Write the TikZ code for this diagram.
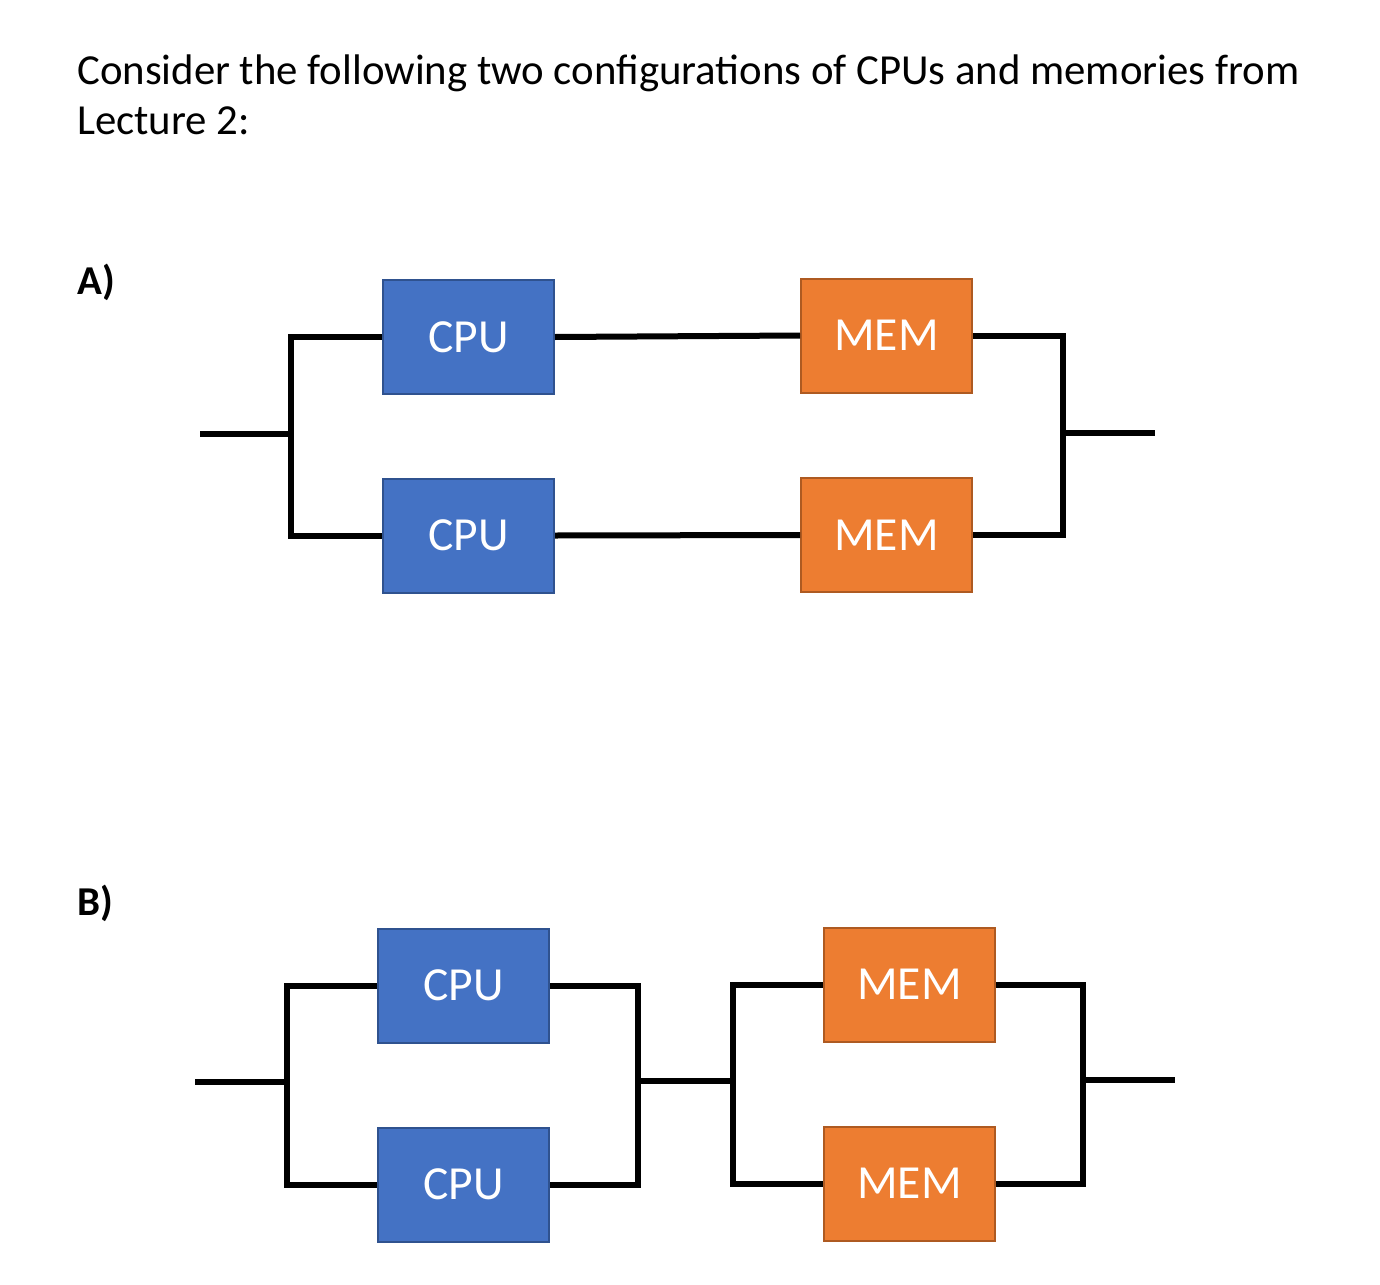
\documentclass[tikz,border=0pt]{standalone}
\usepackage{fontspec}
\setmainfont{Carlito}
\definecolor{cpufill}{HTML}{4472C4}
\definecolor{cpuline}{HTML}{2F528F}
\definecolor{memfill}{HTML}{ED7D31}
\definecolor{memline}{HTML}{AE5A21}
\begin{document}
\begin{tikzpicture}[x=1pt,y=-1pt,
  unit/.style={rectangle, minimum width=171pt, minimum height=114pt, inner sep=0pt,
    line width=2pt, text=white, font=\fontsize{47.5}{56}\selectfont},
  cpubox/.style={unit, fill=cpufill, draw=cpuline},
  membox/.style={unit, fill=memfill, draw=memline},
  wire/.style={line width=6pt, black, line join=miter},
  title/.style={anchor=base west, inner sep=0pt, font=\fontsize{42.8}{50}\selectfont},
  part/.style={anchor=base west, inner sep=0pt, font=\fontsize{41}{50}\selectfont\bfseries}]
\path[use as bounding box, fill=white] (0,0) rectangle (1380,1284);

\node[title] (t1) at (77,85) {Consider the following two configurations of CPUs and memories from};
\node[title] (t2) at (77,135) {Lecture 2:};

% ---------- A ----------
\node[part] (la) at (77,294) {A)};
\node[cpubox] (ca1) at (468.5,337) {CPU};
\node[cpubox] (ca2) at (468.5,535.5) {CPU};
\node[membox] (ma1) at (886.5,335.5) {MEM};
\node[membox] (ma2) at (886.5,535) {MEM};
\coordinate (ainL) at (200,434);
\coordinate (ajL) at (291,434);
\coordinate (ajR) at (1063,433);
\coordinate (aoutR) at (1155,433);
\draw[wire] (ainL) -- (ajL);
\draw[wire] (ca1.west) -| (ajL) |- (ca2.west);
\draw[wire] (ca1.east) -- (ma1.west);
\draw[wire] (ca2.east) -- (ma2.west);
\draw[wire] (ma1.east) -| (ajR) |- (ma2.east);
\draw[wire] (ajR) -- (aoutR);

% ---------- B ----------
\node[part] (lb) at (77,915) {B)};
\node[cpubox] (cb1) at (463.5,985.5) {CPU};
\node[cpubox] (cb2) at (463.5,1184.5) {CPU};
\node[membox] (mb1) at (909.5,984.5) {MEM};
\node[membox] (mb2) at (909.5,1183.5) {MEM};
\coordinate (binL) at (195,1082);
\coordinate (bj1) at (287,1082);
\coordinate (bj2) at (638,1081);
\coordinate (bj3) at (733,1081);
\coordinate (bj4) at (1083,1080);
\coordinate (boutR) at (1175,1080);
\draw[wire] (binL) -- (bj1);
\draw[wire] (cb1.west) -| (bj1) |- (cb2.west);
\draw[wire] (cb1.east) -| (bj2) |- (cb2.east);
\draw[wire] (bj2) -- (bj3);
\draw[wire] (mb1.west) -| (bj3) |- (mb2.west);
\draw[wire] (mb1.east) -| (bj4) |- (mb2.east);
\draw[wire] (bj4) -- (boutR);
\end{tikzpicture}
\end{document}
